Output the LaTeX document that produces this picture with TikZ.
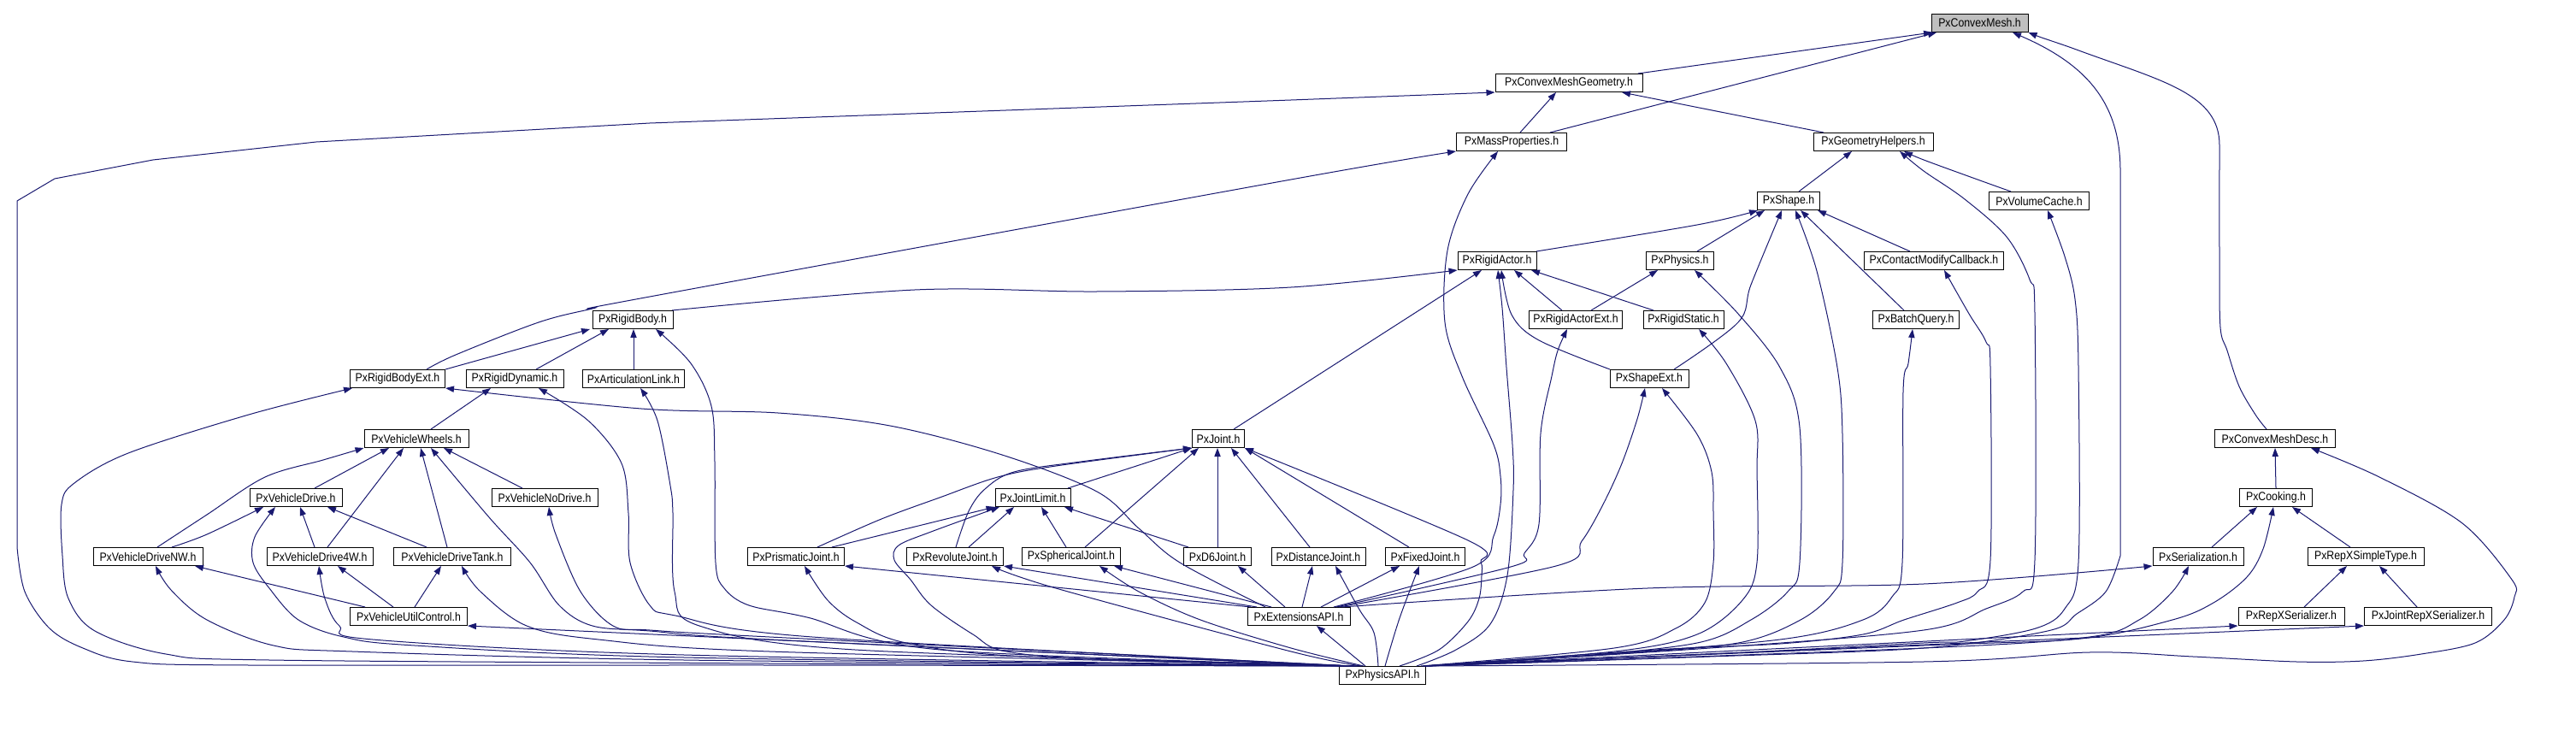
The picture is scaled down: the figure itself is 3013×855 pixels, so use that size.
\documentclass[tikz,border=0pt]{standalone}
\usepackage{fontspec}
\newfontfamily\lblfont[FakeStretch=0.88]{Liberation Sans}
\usetikzlibrary{arrows.meta}
\definecolor{edgeblue}{HTML}{191970}
\definecolor{rootgray}{HTML}{BFBFBF}
\newcommand\mkbox[5]{\node[box,minimum width=#4*0.5pt] (#1) at (#2,#3) {#5};}
\begin{document}
\begin{tikzpicture}[x=0.5pt,y=-0.5pt,
  box/.style={draw=black, line width=0.5pt, fill=white, minimum height=10.5pt, inner sep=0pt, font=\lblfont\fontsize{7}{8}\selectfont},
  e/.style={draw=edgeblue, line width=0.5pt, -{Triangle[length=5pt,width=3.6pt]}},
  sm/.style={smooth, tension=0.55}]
\useasboundingbox (0,0) rectangle (3013,855);
% nodes
\node[box,fill=rootgray,minimum width=56.5pt] (root) at (2315.5,27) {PxConvexMesh.h};
\mkbox{cmg}{1835}{97}{172}{PxConvexMeshGeometry.h}
\mkbox{mp}{1768}{166}{129}{PxMassProperties.h}
\mkbox{gh}{2191}{166}{140}{PxGeometryHelpers.h}
\mkbox{shape}{2092}{235}{73}{PxShape.h}
\mkbox{vc}{2385}{235}{117}{PxVolumeCache.h}
\mkbox{ra}{1751}{305}{92}{PxRigidActor.h}
\mkbox{phys}{1965}{305}{79}{PxPhysics.h}
\mkbox{cmc}{2262}{305}{163}{PxContactModifyCallback.h}
\mkbox{rae}{1843}{374}{109}{PxRigidActorExt.h}
\mkbox{rs}{1969}{374}{94}{PxRigidStatic.h}
\mkbox{bq}{2241}{374}{101}{PxBatchQuery.h}
\mkbox{rb}{740}{374}{94}{PxRigidBody.h}
\mkbox{rbe}{465}{443}{111}{PxRigidBodyExt.h}
\mkbox{rd}{602}{443}{114}{PxRigidDynamic.h}
\mkbox{al}{741}{443}{119}{PxArticulationLink.h}
\mkbox{se}{1929}{443}{92}{PxShapeExt.h}
\mkbox{vw}{487}{513}{122}{PxVehicleWheels.h}
\mkbox{joint}{1425}{513}{61}{PxJoint.h}
\mkbox{cmd}{2661}{513}{141}{PxConvexMeshDesc.h}
\mkbox{vd}{346}{582}{108}{PxVehicleDrive.h}
\mkbox{vnd}{637}{582}{124}{PxVehicleNoDrive.h}
\mkbox{jl}{1208}{582}{88}{PxJointLimit.h}
\mkbox{cook}{2662}{582}{85}{PxCooking.h}
\mkbox{vnw}{173}{651}{128}{PxVehicleDriveNW.h}
\mkbox{v4w}{374}{651}{124}{PxVehicleDrive4W.h}
\mkbox{vtank}{529}{651}{137}{PxVehicleDriveTank.h}
\mkbox{pj}{931}{651}{113}{PxPrismaticJoint.h}
\mkbox{rj}{1117}{651}{113}{PxRevoluteJoint.h}
\mkbox{sj}{1253}{651}{115}{PxSphericalJoint.h}
\mkbox{d6}{1424}{651}{79}{PxD6Joint.h}
\mkbox{dj}{1542}{651}{110}{PxDistanceJoint.h}
\mkbox{fj}{1667}{651}{93}{PxFixedJoint.h}
\mkbox{ser}{2571}{651}{106}{PxSerialization.h}
\mkbox{rst}{2767}{651}{136}{PxRepXSimpleType.h}
\mkbox{uc}{478}{721}{137}{PxVehicleUtilControl.h}
\mkbox{ext}{1519}{721}{120}{PxExtensionsAPI.h}
\mkbox{rxs}{2680}{721}{124}{PxRepXSerializer.h}
\mkbox{jrxs}{2840}{721}{149}{PxJointRepXSerializer.h}
\mkbox{api}{1617}{790}{101}{PxPhysicsAPI.h}
% upper edges
\draw[e] (cmg.north -| 1916,0) -- (root.south -| 2260,0);
\draw[e] (mp.north -| 1813,0) -- (root.south -| 2265,0);
\draw[e] (mp.north -| 1778,0) -- (cmg.south -| 1820,0);
\draw[e] (gh.north -| 2133,0) -- (cmg.south -| 1897,0);
\draw[e] (shape.north -| 2104,0) -- (gh.south -| 2166,0);
\draw[e] plot[sm] coordinates {(vc.north -| 2352,0) (2313,210) (2250,187) (gh.south -| 2227,0)};
\draw[e] plot[sm] coordinates {(ra.north -| 1797,0) (1985,263) (shape.south -| 2056,0)};
\draw[e] (phys.north -| 1985,0) -- (shape.south -| 2064,0);
\draw[e] plot[sm] coordinates {(se.north -| 1958,0) (2033,377) (2048,333) (shape.south -| 2084,0)};
\draw[e] (bq.north -| 2227,0) -- (shape.south -| 2106,0);
\draw[e] (cmc.north -| 2234,0) -- (shape.south -| 2126,0);
\draw[e] plot[sm] coordinates {(rb.north -| 786,0) (1070,339) (1283,341) (1510,336) (ra.south west)};
\draw[e] (joint.north -| 1443,0) -- (ra.south -| 1733,0);
\draw[e] (rae.north -| 1827,0) -- (ra.south -| 1771,0);
\draw[e] (rs.north -| 1934,0) -- (ra.south -| 1791,0);
\draw[e] plot[sm] coordinates {(se.north -| 1883,0) (1800,398) (1768,368) (ra.south -| 1756,0)};
\draw[e] (rae.north -| 1861,0) -- (phys.south -| 1939,0);
\draw[e] (rbe.north -| 521,0) -- (rb.south -| 690,0);
\draw[e] (rd.north -| 627,0) -- (rb.south -| 712,0);
\draw[e] (al.north -| 741,0) -- (rb.south -| 741,0);
\draw[e] plot[sm] coordinates {(rbe.north -| 499,0) (533,415) (630,377) (693,361) (760,347) (1510,210) (mp.south west)};
\draw[e] plot[sm] coordinates {(cmd.north -| 2651,0) (2638,485) (2619,452) (2605,410) (2597,383) (2596,300) (2596,170)} .. controls (2596,110) and (2530,95) .. (2434,60) .. controls (2410,51) and (2390,45) .. (root.south east);
% vehicle edges
\draw[e] (vw.north -| 504,0) -- (rd.south -| 574,0);
\draw[e] plot[sm] coordinates {(vnw.north -| 184,0) (242,602) (310,558) (378,538) (vw.south west)};
\draw[e] (vd.north -| 368,0) -- (vw.south -| 455,0);
\draw[e] (v4w.north -| 383,0) -- (vw.south -| 472,0);
\draw[e] (vtank.north -| 523,0) -- (vw.south -| 492,0);
\draw[e] (vnd.north -| 611,0) -- (vw.south -| 519,0);
\draw[e] plot[sm] coordinates {(vnw.north -| 201,0) (242,625) (vd.south -| 308,0)};
\draw[e] (v4w.north -| 368,0) -- (vd.south -| 351,0);
\draw[e] (vtank.north -| 499,0) -- (vd.south -| 383,0);
\draw[e] (uc.north -| 427,0) -- (vnw.south -| 228,0);
\draw[e] (uc.north -| 460,0) -- (v4w.south -| 395,0);
\draw[e] (uc.north -| 485,0) -- (vtank.south -| 516,0);
% joint edges
\draw[e] plot[sm] coordinates {(pj.north -| 956,0) (1031,607) (1099,582) (1167,558) (1235,545) (joint.south west)};
\draw[e] plot[sm] coordinates {(rj.north -| 1118,0) (1133,598) (1152,572) (1186,552) (1264,540) (joint.south west)};
\draw[e] (jl.north -| 1249,0) -- (joint.south west);
\draw[e] (sj.north -| 1269,0) -- (joint.south -| 1402,0);
\draw[e] (d6.north -| 1424,0) -- (joint.south -| 1424,0);
\draw[e] (dj.north -| 1532,0) -- (joint.south -| 1440,0);
\draw[e] (fj.north -| 1648,0) -- (joint.south east);
\draw[e] (pj.north -| 973,0) -- (jl.south west);
\draw[e] (rj.north -| 1133,0) -- (jl.south -| 1186,0);
\draw[e] (sj.north -| 1247,0) -- (jl.south -| 1218,0);
\draw[e] (d6.north -| 1390,0) -- (jl.south -| 1245,0);
% extensions edges
\draw[e] (ext.north -| 1463,0) -- (pj.south east);
\draw[e] (ext.north -| 1470,0) -- (rj.south east);
\draw[e] (ext.north -| 1487,0) -- (sj.south -| 1303,0);
\draw[e] (ext.north -| 1503,0) -- (d6.south -| 1448,0);
\draw[e] (ext.north -| 1523,0) -- (dj.south -| 1535,0);
\draw[e] (ext.north -| 1545,0) -- (fj.south -| 1637,0);
\draw[e] plot[sm] coordinates {(ext.north -| 1480,0) (1380,658) (1332,618) (1283,575) (1172,532) (1041,498) (910,483) (750,478) (rbe.south east)};
\draw[e] plot[sm] coordinates {(ext.north -| 1560,0) (1723,663) (1747,627) (1755,590) (1755,557) (1747,520) (1710,440) (1690,377) (1693,293) (1717,227) (mp.south -| 1752,0)};
\draw[e] plot[sm] coordinates {(ext.north -| 1563,0) (1767,663) (1783,647) (1800,613) (1802,507) (1815,440) (1822,410) (rae.south -| 1833,0)};
\draw[e] plot[sm] coordinates {(ext.north -| 1566,0) (1820,662) (1850,633) (1875,590) (1897,542) (1915,490) (se.south -| 1924,0)};
\draw[e] plot[sm] coordinates {(ext.north -| 1569,0) (1927,688) (2250,683) (ser.south west)};
% right cluster
\draw[e] (cook.north) -- (cmd.south);
\draw[e] (ser.north -| 2587,0) -- (cook.south -| 2640,0);
\draw[e] (rst.north -| 2749,0) -- (cook.south -| 2681,0);
\draw[e] (rxs.north -| 2695,0) -- (rst.south -| 2745,0);
\draw[e] (jrxs.north -| 2827,0) -- (rst.south -| 2783,0);
% PxPhysicsAPI edges, left side
\draw[e] plot[sm] coordinates {(api.north -| 1567,0) (900,778) (291,778) (155,774) (97,758) (58,735) (29,692) (20,640)} -- (20,235) -- (64,209) -- (179,187) -- (370,166) -- (760,144) -- (1510,117) -- (cmg.south west);
\draw[e] plot[sm] coordinates {(api.north -| 1569,0) (900,776) (315,772) (194,765) (111,738) (80,700) (73,650) (72,590) (87,565) (150,530) (291,485) (rbe.south -| 412,0)};
\draw[e] plot[sm] coordinates {(api.north -| 1571,0) (800,772) (412,762) (320,755) (242,725) (200,690) (vnw.south -| 182,0)};
\draw[e] plot[sm] coordinates {(api.north -| 1573,0) (800,769) (485,755) (402,745) (349,725) (315,688) (296,658) (298,628) (vd.south -| 322,0)};
\draw[e] plot[sm] coordinates {(api.north -| 1575,0) (800,766) (436,748) (397,732) (380,700) (v4w.south -| 373,0)};
\draw[e] (api.north -| 1567,0) -- (uc.south east);
\draw[e] plot[sm] coordinates {(api.north -| 1577,0) (900,762) (700,748) (616,732) (562,692) (vtank.south -| 540,0)};
\draw[e] plot[sm] coordinates {(api.north -| 1579,0) (900,748) (760,738) (693,732) (654,708) (620,658) (572,605) (vw.south -| 504,0)};
\draw[e] plot[sm] coordinates {(api.north -| 1581,0) (900,745) (760,737) (717,732) (679,692) (650,625) (vnd.south -| 642,0)};
\draw[e] plot[sm] coordinates {(api.north -| 1583,0) (950,745) (790,720) (760,708) (737,658) (735,600) (727,542) (688,492) (rd.south -| 630,0)};
\draw[e] plot[sm] coordinates {(api.north -| 1585,0) (1000,760) (818,732) (789,692) (787,600) (784,568) (769,492) (al.south -| 749,0)};
\draw[e] plot[sm] coordinates {(api.north -| 1587,0) (1100,760) (944,722) (876,708) (847,688) (837,658) (836,540) (832,475) (808,425) (rb.south -| 767,0)};
\draw[e] plot[sm] coordinates {(api.north -| 1589,0) (1300,772) (1177,762) (1138,742) (1089,708) (1065,678) (1046,655) (1051,638) (1089,622) (jl.south -| 1169,0)};
\draw[e] plot[sm] coordinates {(api.north -| 1591,0) (1200,768) (1060,752) (1002,728) (968,702) (pj.south -| 941,0)};
\draw[e] plot[sm] coordinates {(api.north -| 1593,0) (1510,762) (1235,688) (rj.south -| 1160,0)};
\draw[e] plot[sm] coordinates {(api.north -| 1595,0) (1510,758) (1404,725) (1332,692) (sj.south -| 1286,0)};
\draw[e] (api.north -| 1597,0) -- (ext.south -| 1540,0);
\draw[e] plot[sm] coordinates {(api.north -| 1612,0) (1607,740) (1590,713) (dj.south -| 1562,0)};
\draw[e] plot[sm] coordinates {(api.north -| 1620,0) (1637,723) (fj.south -| 1660,0)};
\draw[e] plot[sm] coordinates {(api.north -| 1637,0) (1683,760) (1717,727) (1730,700) (1733,673) (1732,657) (1717,632) (joint.south east)};
% PxPhysicsAPI edges, right side
\draw[e] plot[sm] coordinates {(api.north -| 1657,0) (1703,760) (1743,730) (1763,673) (1770,573) (1769,520) (1762,430) (1757,360) (ra.south -| 1752,0)};
\draw[e] plot[sm] coordinates {(api.north -| 1662,0) (1888,758) (1960,735) (1994,705) (2004,658) (2004,600) (2002,552) (1985,508) (se.south -| 1944,0)};
\draw[e] plot[sm] coordinates {(api.north -| 1664,0) (1888,762) (1985,742) (2038,702) (2055,658) (2055,550) (2053,492) (2019,425) (rs.south -| 1987,0)};
\draw[e] plot[sm] coordinates {(api.north -| 1665,0) (1839,768) (1985,752) (2048,725) (2091,692) (2105,658) (2105,500) (2082,430) (2033,367) (phys.south -| 1982,0)};
\draw[e] plot[sm] coordinates {(api.north -| 1666,0) (1888,765) (2033,752) (2106,725) (2145,692) (2155,658) (2155,508) (2149,430) (2125,317) (shape.south -| 2100,0)};
\draw[e] plot[sm] coordinates {(api.north -| 1667,0) (1839,768) (2082,748) (2179,725) (2213,698) (2225,658) (2226,458) (2232,425) (bq.south -| 2237,0)};
\draw[e] plot[sm] coordinates {(api.north east) (1936,760) (2082,753) (2179,742) (2227,725) (2289,705) (2313,692) (2328,655) (2328,430) (2323,400) (2303,367) (cmc.south -| 2274,0)};
\draw[e] plot[sm] coordinates {(api.north east) (2000,758) (2250,737) (2323,712) (2366,692) (2380,655) (2380,367) (2374,327) (2347,277) (2298,233) (2250,200) (gh.south -| 2222,0)};
\draw[e] plot[sm] coordinates {(api.north east) (2000,765) (2250,752) (2298,750) (2381,735) (2415,712) (2431,658) (2431,430) (2427,350) (2415,300) (vc.south -| 2395,0)};
\draw[e] plot[sm] coordinates {(api.north east) (2000,768) (2250,758) (2395,738) (2429,718) (2463,692) (2480,650)} -- (2480,200) .. controls (2480,120) and (2440,75) .. (root.south -| 2354,0);
\draw[e] plot[sm] coordinates {(api.north east) (2250,755) (2434,747) (2541,725) (2589,705) (2628,675) (2647,642) (cook.south -| 2659,0)};
\draw[e] plot[sm] coordinates {(api.north east) (2250,758) (2444,745) (2502,725) (2541,692) (ser.south -| 2560,0)};
\draw[e] (api.north east) -- (rxs.south west);
\draw[e] (api.north east) -- (jrxs.south west);
\draw[e] plot[sm] coordinates {(api.north east) (2250,774) (2444,763) (2565,768) (2686,774) (2764,773) (2832,765) (2895,752) (2929,725) (2941,698) (2938,678) (2880,612) (2783,558) (cmd.south -| 2703,0)};
\end{tikzpicture}
\end{document}
